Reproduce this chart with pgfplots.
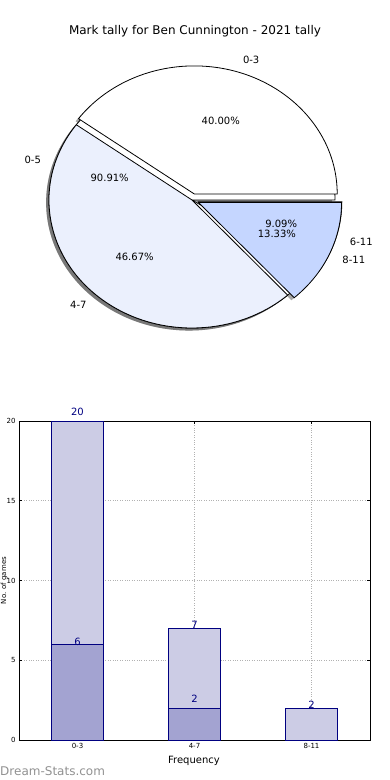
\documentclass[border=0pt]{standalone}
\usepackage{pgfplots}
\pgfplotsset{compat=1.18}
\usepackage{fontspec}
\setmainfont{DejaVu Sans}
\definecolor{navy}{RGB}{0,0,128}
\definecolor{barlight}{RGB}{204,204,229}
\definecolor{bardark}{RGB}{163,163,209}
\definecolor{pieA}{RGB}{255,255,255}
\definecolor{pieB}{RGB}{235,240,253}
\definecolor{pieC}{RGB}{197,214,255}
\definecolor{wmark}{RGB}{145,145,145}
% pie counts: 0-3, 4-7, 8-11 ; 0-5, 6-11
\def\nA{6}\def\nB{7}\def\nC{2}
\def\mA{10}\def\mB{1}
\pgfmathsetmacro\tAB{360*\nA/(\nA+\nB+\nC)}
\pgfmathsetmacro\tBC{360*(\nA+\nB)/(\nA+\nB+\nC)}
\pgfmathsetmacro\tQ{360*\mA/(\mA+\mB)}
% wedge: fill, start, end, explode
\newcommand\pieWedge[4]{%
  \filldraw[fill=#1, draw=black, line width=0.8pt, line join=miter]
    (axis cs:{#4*cos((#2+#3)/2)},{#4*sin((#2+#3)/2)}) -- ++(#2:143pt and 128pt)
    arc[start angle=#2, end angle=#3, x radius=143pt, y radius=128pt] -- cycle;}
\newcommand\pieShadow[3]{%
  \fill[black!70, opacity=0.5]
    (axis cs:{#3*cos((#1+#2)/2)-0.02},{#3*sin((#1+#2)/2)-0.02}) -- ++(#1:143pt and 128pt)
    arc[start angle=#1, end angle=#2, x radius=143pt, y radius=128pt] -- cycle;}
\begin{document}
\begin{tikzpicture}[x=1pt,y=1pt]
\useasboundingbox (0,0) rectangle (390,780);
% ---------------- pie chart ----------------
\begin{axis}[at={(192pt,580pt)}, anchor=origin, x=143pt, y=128pt,
  xmin=-1.3, xmax=1.3, ymin=-1.3, ymax=1.3, hide axis, clip=false]
\addplot[draw=none] coordinates {(0,0)};
\pieShadow{0}{\tQ}{0}
\pieShadow{\tQ}{360}{0.05}
\pieShadow{0}{\tAB}{0.05}
\pieShadow{\tAB}{\tBC}{0}
\pieShadow{\tBC}{360}{0.05}
\pieWedge{white}{0}{\tQ}{0}
\pieWedge{white}{\tQ}{360}{0.05}
\pieWedge{pieA}{0}{\tAB}{0.05}
\pieWedge{pieB}{\tAB}{\tBC}{0}
\pieWedge{pieC}{\tBC}{360}{0.05}
\begin{scope}[every node/.style={font=\fontsize{10}{12}\selectfont, inner sep=0pt}]
\node[anchor=west] at (axis cs:{1.15*cos(\tAB/2)},{1.15*sin(\tAB/2)}) {0-3};
\node[anchor=east] at (axis cs:{1.1*cos((\tAB+\tBC)/2)},{1.1*sin((\tAB+\tBC)/2)}) {4-7};
\node[anchor=west] at (axis cs:{1.15*cos((\tBC+360)/2)},{1.15*sin((\tBC+360)/2)}) {8-11};
\node[anchor=east] at (axis cs:{1.1*cos(\tQ/2)},{1.1*sin(\tQ/2)}) {0-5};
\node[anchor=west] at (axis cs:{1.15*cos((\tQ+360)/2)},{1.15*sin((\tQ+360)/2)}) {6-11};
\node at (axis cs:{0.65*cos(\tAB/2)},{0.65*sin(\tAB/2)}) {40.00\%};
\node at (axis cs:{0.6*cos((\tAB+\tBC)/2)},{0.6*sin((\tAB+\tBC)/2)}) {46.67\%};
\node at (axis cs:{0.65*cos((\tBC+360)/2)},{0.65*sin((\tBC+360)/2)}) {13.33\%};
\node at (axis cs:{0.6*cos(\tQ/2)},{0.6*sin(\tQ/2)}) {90.91\%};
\node at (axis cs:{0.65*cos((\tQ+360)/2)},{0.65*sin((\tQ+360)/2)}) {9.09\%};
\node[font=\fontsize{12}{14}\selectfont] at (axis cs:0.021,1.32) {Mark tally for Ben Cunnington - 2021 tally};
\end{scope}
\end{axis}
% ---------------- bar chart ----------------
\begin{axis}[at={(19pt,40pt)}, anchor=south west, width=351pt, height=319pt,
  scale only axis, clip=false,
  xmin=-0.5, xmax=2.5, ymin=0, ymax=20,
  xtick={0,1,2}, xticklabels={0-3,4-7,8-11},
  ytick={0,5,10,15,20},
  grid=major, grid style={dotted, gray!60, line width=0.8pt},
  tick align=inside, major tick length=3pt,
  tick style={black, line width=0.6pt},
  axis line style={line width=0.8pt},
  ticklabel style={font=\fontsize{7}{8}\selectfont},
  /pgf/number format/assume math mode=true,
  xlabel={Frequency},
  xlabel style={font=\fontsize{10}{12}\selectfont, at={(axis description cs:0.4986,-0.0658)}, anchor=center},
  ylabel={No. of games},
  ylabel style={font=\fontsize{7}{8}\selectfont, at={(axis description cs:-0.042,0.5)}, anchor=center},
]
\addplot[ybar, bar width=52pt, bar shift=0pt, fill=barlight, draw=navy, line width=0.8pt]
  coordinates {(0,20) (1,7) (2,2)};
\addplot[ybar, bar width=52pt, bar shift=0pt, fill=bardark, draw=navy, line width=0.8pt]
  coordinates {(0,6) (1,2)};
\addplot[draw=none, mark=none, nodes near coords, point meta=explicit symbolic,
  nodes near coords style={text=navy, font=\fontsize{10}{12}\selectfont, anchor=center, inner sep=0pt}]
  coordinates {(0,20.56)[20] (0,6.14)[6] (1,7.21)[7] (1,2.57)[2] (2,2.19)[2]};
\node[anchor=west, inner sep=0pt, text=wmark, font=\fontsize{12}{14}\selectfont] at (rel axis cs:-0.054,-0.097) {Dream-Stats.com};
\end{axis}
\end{tikzpicture}
\end{document}
